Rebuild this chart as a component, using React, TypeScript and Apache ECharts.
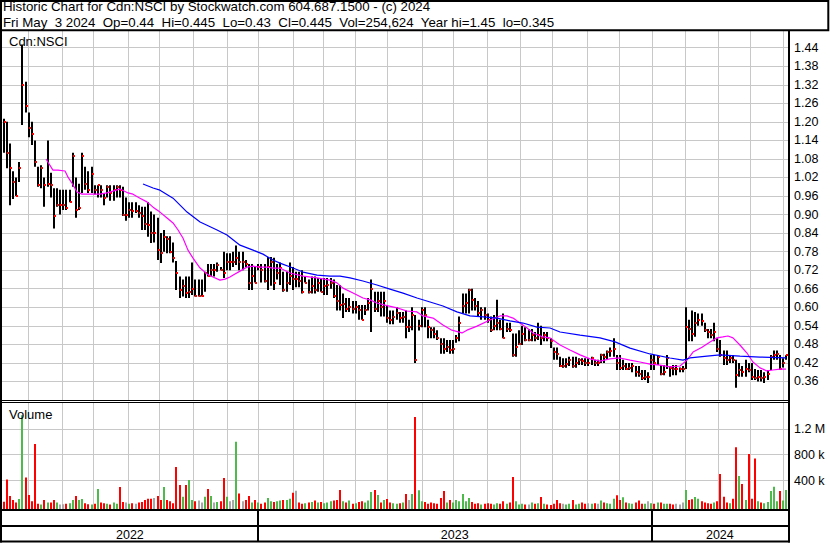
import React, { useEffect, useRef } from "react";
import * as echarts from "echarts";

// Each plotted bar covers two trading sessions; x unit = trading session index.
const STEP = 2;

const hi = [
  1.21, 1.20, 1.13, 1.04, 1.02, 1.07, 1.45, 1.33, 1.23, 1.20,
  1.14, 1.055, 1.06, 1.02, 1.14, 1.035, 0.985, 0.985, 0.98, 0.98,
  0.98, 0.98, 1.10, 1.02, 1.00, 1.10, 1.055, 1.04, 1.055, 0.995,
  0.995, 0.995, 0.97, 0.995, 0.995, 0.995, 0.995, 0.995, 0.99, 0.955,
  0.94, 0.94, 0.94, 0.93, 0.925, 0.925, 0.94, 0.91, 0.90, 0.89,
  0.84, 0.85, 0.83, 0.83, 0.81, 0.75, 0.70, 0.69, 0.70, 0.70,
  0.745, 0.69, 0.69, 0.69, 0.715, 0.74, 0.74, 0.74, 0.745, 0.73,
  0.78, 0.775, 0.775, 0.78, 0.80, 0.78, 0.78, 0.753, 0.74, 0.74,
  0.73, 0.74, 0.74, 0.74, 0.763, 0.763, 0.76, 0.74, 0.745, 0.715,
  0.715, 0.745, 0.73, 0.715, 0.715, 0.72, 0.70, 0.69, 0.70, 0.70,
  0.695, 0.695, 0.695, 0.695, 0.695, 0.69, 0.672, 0.672, 0.645, 0.63,
  0.63, 0.62, 0.62, 0.607, 0.607, 0.607, 0.63, 0.69, 0.65, 0.65,
  0.65, 0.65, 0.607, 0.59, 0.59, 0.60, 0.585, 0.585, 0.59, 0.56,
  0.60, 0.575, 0.56, 0.60, 0.60, 0.56, 0.535, 0.535, 0.526, 0.50,
  0.50, 0.494, 0.494, 0.494, 0.51, 0.57, 0.645, 0.645, 0.66, 0.66,
  0.63, 0.62, 0.60, 0.60, 0.58, 0.57, 0.575, 0.624, 0.56, 0.58,
  0.55, 0.55, 0.515, 0.515, 0.526, 0.54, 0.535, 0.53, 0.53, 0.52,
  0.55, 0.54, 0.52, 0.52, 0.50, 0.47, 0.47, 0.44, 0.435, 0.435,
  0.44, 0.44, 0.44, 0.435, 0.435, 0.435, 0.435, 0.44, 0.43, 0.43,
  0.45, 0.45, 0.46, 0.47, 0.50, 0.446, 0.446, 0.43, 0.42, 0.42,
  0.42, 0.41, 0.41, 0.397, 0.397, 0.39, 0.446, 0.446, 0.446, 0.413,
  0.413, 0.446, 0.41, 0.413, 0.413, 0.405, 0.41, 0.60, 0.56, 0.59,
  0.585, 0.58, 0.58, 0.55, 0.53, 0.53, 0.55, 0.50, 0.494, 0.46,
  0.46, 0.446, 0.446, 0.43, 0.42, 0.41, 0.43, 0.42, 0.42, 0.40,
  0.397, 0.397, 0.39, 0.397, 0.446, 0.46, 0.46, 0.446, 0.435, 0.445,
];

const lo = [
  1.10, 1.05, 0.93, 0.95, 0.96, 1.005, 1.19, 1.23, 1.15, 1.125,
  1.055, 0.99, 0.985, 0.925, 0.99, 0.955, 0.855, 0.925, 0.90, 0.915,
  0.915, 0.94, 0.99, 0.89, 0.915, 0.97, 0.98, 0.97, 0.97, 0.965,
  0.955, 0.955, 0.93, 0.955, 0.945, 0.945, 0.955, 0.955, 0.895, 0.88,
  0.89, 0.89, 0.905, 0.89, 0.85, 0.85, 0.828, 0.808, 0.81, 0.753,
  0.743, 0.78, 0.775, 0.775, 0.745, 0.656, 0.63, 0.635, 0.63, 0.63,
  0.64, 0.635, 0.635, 0.635, 0.65, 0.70, 0.70, 0.70, 0.715, 0.72,
  0.695, 0.72, 0.72, 0.73, 0.737, 0.72, 0.72, 0.73, 0.656, 0.656,
  0.68, 0.72, 0.68, 0.68, 0.656, 0.67, 0.656, 0.69, 0.672, 0.65,
  0.65, 0.672, 0.656, 0.665, 0.665, 0.645, 0.68, 0.645, 0.645, 0.645,
  0.65, 0.65, 0.64, 0.64, 0.66, 0.63, 0.59, 0.59, 0.565, 0.585,
  0.585, 0.58, 0.58, 0.56, 0.56, 0.575, 0.59, 0.52, 0.585, 0.585,
  0.57, 0.57, 0.55, 0.545, 0.545, 0.56, 0.55, 0.55, 0.50, 0.52,
  0.526, 0.42, 0.525, 0.535, 0.535, 0.50, 0.50, 0.50, 0.494, 0.45,
  0.45, 0.455, 0.45, 0.45, 0.485, 0.49, 0.58, 0.58, 0.58, 0.59,
  0.59, 0.57, 0.56, 0.56, 0.55, 0.52, 0.526, 0.526, 0.526, 0.50,
  0.52, 0.52, 0.44, 0.44, 0.478, 0.478, 0.49, 0.49, 0.49, 0.49,
  0.494, 0.478, 0.49, 0.49, 0.468, 0.43, 0.43, 0.407, 0.404, 0.404,
  0.41, 0.404, 0.404, 0.413, 0.413, 0.41, 0.41, 0.413, 0.41, 0.41,
  0.42, 0.42, 0.43, 0.44, 0.44, 0.397, 0.397, 0.397, 0.397, 0.397,
  0.39, 0.375, 0.375, 0.365, 0.365, 0.355, 0.397, 0.397, 0.413, 0.38,
  0.38, 0.40, 0.375, 0.38, 0.38, 0.39, 0.39, 0.40, 0.49, 0.49,
  0.505, 0.54, 0.54, 0.52, 0.50, 0.50, 0.49, 0.455, 0.44, 0.413,
  0.413, 0.42, 0.42, 0.34, 0.375, 0.375, 0.375, 0.39, 0.365, 0.365,
  0.36, 0.36, 0.355, 0.365, 0.397, 0.43, 0.43, 0.397, 0.405, 0.43,
];

const cl = [
  1.20, 1.10, 1.05, 1.005, 0.96, 1.05, 1.32, 1.25, 1.18, 1.16,
  1.07, 0.995, 1.05, 0.995, 1.00, 0.995, 0.895, 0.93, 0.93, 0.93,
  0.92, 0.94, 1.09, 0.915, 0.92, 1.09, 1.00, 0.98, 1.03, 0.98,
  0.995, 0.98, 0.955, 0.99, 0.97, 0.98, 0.99, 0.98, 0.90, 0.90,
  0.915, 0.91, 0.91, 0.905, 0.895, 0.87, 0.866, 0.84, 0.84, 0.785,
  0.775, 0.827, 0.82, 0.78, 0.76, 0.71, 0.656, 0.67, 0.645, 0.65,
  0.66, 0.636, 0.636, 0.636, 0.71, 0.70, 0.72, 0.72, 0.737, 0.72,
  0.71, 0.745, 0.745, 0.745, 0.76, 0.745, 0.745, 0.74, 0.68, 0.70,
  0.68, 0.73, 0.72, 0.685, 0.73, 0.745, 0.68, 0.71, 0.727, 0.656,
  0.68, 0.70, 0.69, 0.69, 0.685, 0.65, 0.68, 0.65, 0.67, 0.656,
  0.68, 0.65, 0.67, 0.672, 0.68, 0.635, 0.62, 0.607, 0.61, 0.595,
  0.60, 0.595, 0.60, 0.59, 0.56, 0.59, 0.615, 0.66, 0.595, 0.62,
  0.60, 0.62, 0.565, 0.56, 0.57, 0.58, 0.565, 0.57, 0.535, 0.535,
  0.575, 0.43, 0.54, 0.59, 0.575, 0.535, 0.526, 0.515, 0.50, 0.48,
  0.465, 0.47, 0.462, 0.465, 0.50, 0.55, 0.605, 0.615, 0.656, 0.624,
  0.605, 0.58, 0.59, 0.575, 0.56, 0.525, 0.54, 0.55, 0.53, 0.50,
  0.53, 0.526, 0.446, 0.47, 0.48, 0.515, 0.494, 0.494, 0.51, 0.50,
  0.51, 0.50, 0.51, 0.50, 0.49, 0.455, 0.45, 0.41, 0.41, 0.415,
  0.43, 0.41, 0.42, 0.43, 0.425, 0.42, 0.42, 0.435, 0.42, 0.42,
  0.446, 0.44, 0.455, 0.46, 0.465, 0.42, 0.405, 0.41, 0.40, 0.405,
  0.41, 0.39, 0.385, 0.37, 0.375, 0.375, 0.43, 0.42, 0.44, 0.385,
  0.39, 0.435, 0.405, 0.40, 0.40, 0.40, 0.40, 0.535, 0.53, 0.515,
  0.55, 0.56, 0.555, 0.526, 0.52, 0.51, 0.52, 0.465, 0.446, 0.435,
  0.43, 0.435, 0.43, 0.38, 0.397, 0.39, 0.40, 0.397, 0.375, 0.37,
  0.375, 0.37, 0.375, 0.385, 0.44, 0.446, 0.45, 0.40, 0.42, 0.445,
];

// volume in thousands of shares
const volK = [
  73, 418, 160, 100, 60, 114, 1410, 449, 176, 80,
  964, 40, 30, 99, 60, 60, 99, 60, 30, 35,
  40, 50, 100, 160, 100, 114, 50, 35, 30, 40,
  269, 60, 50, 40, 30, 60, 40, 300, 70, 60,
  40, 50, 40, 60, 70, 100, 120, 120, 130, 160,
  100, 300, 100, 80, 50, 608, 330, 150, 330, 408,
  100, 80, 90, 60, 150, 269, 160, 60, 70, 80,
  438, 150, 80, 100, 1000, 200, 80, 100, 160, 60,
  100, 60, 40, 60, 130, 80, 70, 80, 90, 100,
  100, 120, 212, 243, 60, 40, 50, 60, 70, 90,
  60, 70, 50, 60, 80, 90, 99, 253, 80, 60,
  90, 40, 50, 70, 80, 60, 90, 222, 253, 176,
  60, 100, 114, 60, 50, 40, 50, 60, 191, 100,
  191, 1385, 250, 80, 70, 40, 60, 50, 40, 130,
  238, 60, 100, 60, 99, 80, 191, 80, 130, 70,
  40, 50, 30, 40, 50, 40, 30, 50, 40, 80,
  40, 60, 454, 80, 30, 40, 30, 30, 60, 40,
  50, 145, 40, 30, 20, 40, 99, 50, 40, 30,
  40, 99, 30, 40, 60, 40, 50, 40, 50, 40,
  90, 60, 50, 40, 120, 171, 99, 140, 60, 50,
  40, 60, 90, 40, 40, 80, 50, 40, 60, 60,
  40, 40, 40, 30, 40, 30, 60, 253, 100, 110,
  145, 120, 80, 60, 50, 40, 60, 80, 500, 150,
  60, 50, 120, 917, 470, 346, 100, 809, 120, 742,
  80, 60, 50, 70, 238, 304, 80, 238, 90, 254.624,
];

// session index where each month begins (Jun 2022 .. May 2024)
const monthStarts = [
  15.7, 37.4, 57.1, 79.3, 99.1, 120.7, 141.9, 161.7, 183.9, 203.0, 223.6, 244.1,
  266.4, 286.1, 307.3, 328.5, 348.7, 370.9, 391.5, 412.3, 433.5, 454.7, 474.8, 495.8,
];

const yearNames = ["2022", "2023", "2024"];
const yearStarts = [-1, 161.7, 412.3];
const yearEnds = [161.7, 412.3, 499];

// short moving average (magenta)
const maFastDay = [
  27.0, 31.4, 34.6, 39.1, 41.0, 43.5, 46.7, 49.9, 55.0, 61.3,
  65.8, 69.6, 74.1, 79.2, 82.3, 86.8, 91.2, 95.1, 99.5, 104.0,
  107.8, 111.0, 114.1, 117.3, 120.5, 125.0, 129.4, 133.2, 137.7, 140.9,
  144.0, 147.2, 150.4, 154.8, 158.7, 163.1, 167.6, 171.4, 175.8, 182.2,
  190.5, 199.4, 207.6, 212.1, 215.9, 222.3, 228.6, 233.1, 237.5, 242.6,
  250.3, 256.6, 263.0, 266.8, 273.2, 279.5, 285.2, 291.6, 294.8, 301.2,
  309.4, 315.8, 320.2, 324.1, 328.5, 333.0, 336.8, 343.1, 347.6, 354.0,
  360.3, 366.7, 373.0, 379.4, 385.7, 392.1, 398.5, 404.8, 411.2, 417.5,
  423.9, 430.3, 434.7, 438.6, 444.3, 449.4, 453.8, 457.6, 460.8, 464.0,
  468.4, 472.9, 476.7, 481.2, 485.6, 489.4, 493.9, 497.7,
];
const maFastVal = [
  1.080, 1.044, 1.044, 1.041, 1.021, 1.002, 0.973, 0.966, 0.966, 0.966,
  0.970, 0.976, 0.983, 0.970, 0.966, 0.953, 0.941, 0.924, 0.908, 0.889,
  0.873, 0.850, 0.824, 0.785, 0.759, 0.727, 0.708, 0.698, 0.688, 0.691,
  0.698, 0.708, 0.717, 0.730, 0.733, 0.730, 0.730, 0.727, 0.727, 0.711,
  0.701, 0.695, 0.688, 0.679, 0.662, 0.646, 0.630, 0.624, 0.614, 0.607,
  0.598, 0.588, 0.585, 0.572, 0.565, 0.543, 0.526, 0.517, 0.526, 0.539,
  0.559, 0.572, 0.572, 0.565, 0.549, 0.533, 0.517, 0.504, 0.501, 0.478,
  0.462, 0.446, 0.433, 0.426, 0.433, 0.436, 0.429, 0.423, 0.416, 0.413,
  0.407, 0.410, 0.429, 0.455, 0.471, 0.488, 0.501, 0.504, 0.507, 0.501,
  0.478, 0.452, 0.423, 0.404, 0.394, 0.397, 0.400, 0.400,
];

// long moving average (blue)
const maSlowDay = [
  88.7, 95.1, 99.5, 107.8, 116.7, 125.0, 135.8, 142.1, 150.4, 158.7,
  165.0, 171.4, 175.8, 184.1, 190.5, 199.4, 207.6, 214.0, 220.4, 228.6,
  237.5, 245.8, 254.1, 263.0, 271.3, 279.5, 288.4, 296.7, 305.0, 313.9,
  322.1, 330.4, 339.3, 347.6, 354.0, 366.7, 379.4, 389.0, 398.5, 411.2,
  423.9, 432.2, 436.6, 447.5, 455.7, 468.4, 481.2, 497.7,
];
const maSlowVal = [
  0.999, 0.986, 0.979, 0.953, 0.908, 0.876, 0.850, 0.834, 0.801, 0.785,
  0.772, 0.753, 0.743, 0.727, 0.714, 0.704, 0.701, 0.701, 0.695, 0.685,
  0.672, 0.659, 0.646, 0.630, 0.617, 0.604, 0.585, 0.572, 0.569, 0.565,
  0.556, 0.549, 0.536, 0.533, 0.520, 0.510, 0.501, 0.488, 0.468, 0.449,
  0.436, 0.429, 0.436, 0.442, 0.446, 0.442, 0.439, 0.436,
];

const titleLine1 = "Historic Chart for Cdn:NSCI by Stockwatch.com 604.687.1500 - (c) 2024";
const titleLine2 =
  "Fri May  3 2024  Op=0.44  Hi=0.445  Lo=0.43  Cl=0.445  Vol=254,624  Year hi=1.45  lo=0.345";

const FONT = '"Liberation Sans", Arial, Helvetica, sans-serif';
const GRID_COLOR = "#c8c8c8";

export default function App() {
  const ref = useRef<HTMLDivElement>(null);

  useEffect(() => {
    const chart = echarts.init(ref.current!, null, { renderer: "svg" });

    const bars = hi.map((h, k) => [k * STEP, lo[k], h, cl[k]]);
    const vols = volK.map((v, k) => [
      k * STEP,
      v,
      k === 0 ? -1 : Math.sign(Math.round((cl[k] - cl[k - 1]) * 10000)),
    ]);

    const monthLines = (gridIdx: number, extra: number) => ({
      type: "custom",
      xAxisIndex: gridIdx,
      yAxisIndex: gridIdx,
      silent: true,
      z: 1,
      clip: false,
      data: monthStarts.map((d) => [d, 0]),
      encode: { x: 0, y: 1 },
      renderItem: (params: any, api: any) => {
        const cs = params.coordSys;
        const x = Math.round(api.coord([api.value(0), 0])[0]) + 0.5;
        return {
          type: "line",
          shape: { x1: x, y1: cs.y, x2: x, y2: cs.y + cs.height + extra },
          style: { stroke: GRID_COLOR, lineWidth: 1 },
        };
      },
    });

    const option: any = {
      animation: false,
      backgroundColor: "#ffffff",
      grid: [
        { left: 2, top: 31, width: 786, height: 369 },
        { left: 2, top: 403, width: 786, height: 103.4 },
        { left: 2, top: 511, width: 786, height: 31 },
      ],
      xAxis: [0, 1, 2].map((i) => ({
        type: "value",
        gridIndex: i,
        min: -1,
        max: 499,
        show: false,
      })),
      yAxis: [
        {
          type: "value",
          gridIndex: 0,
          position: "right",
          min: 0.3,
          max: 1.494,
          interval: 0.06,
          axisLine: { show: false },
          axisTick: { show: false },
          axisLabel: {
            margin: 6,
            color: "#000",
            fontSize: 12.5,
            fontFamily: FONT,
            showMinLabel: false,
            showMaxLabel: false,
            formatter: (v: number) => v.toFixed(2),
          },
          splitLine: {
            show: true,
            showMinLine: false,
            showMaxLine: false,
            lineStyle: { color: GRID_COLOR, width: 1 },
          },
        },
        {
          type: "value",
          gridIndex: 1,
          position: "right",
          min: 0,
          max: 1600,
          interval: 400,
          axisLine: { show: false },
          axisTick: { show: false },
          axisLabel: {
            margin: 6,
            color: "#000",
            fontSize: 12.5,
            fontFamily: FONT,
            showMinLabel: false,
            showMaxLabel: false,
            formatter: (v: number) => (v >= 1000 ? `${v / 1000} M` : `${v} k`),
          },
          splitLine: {
            show: true,
            showMinLine: false,
            showMaxLine: false,
            lineStyle: { color: GRID_COLOR, width: 1 },
          },
        },
        { type: "value", gridIndex: 2, min: 0, max: 1, show: false },
      ],
      series: [
        monthLines(0, 0),
        monthLines(1, 2.6),
        {
          type: "custom",
          name: "Price",
          xAxisIndex: 0,
          yAxisIndex: 0,
          silent: true,
          z: 2,
          data: bars,
          encode: { x: 0, y: [1, 2, 3] },
          renderItem: (params: any, api: any) => {
            const d = api.value(0);
            const pl = api.coord([d, api.value(1)]);
            const ph = api.coord([d, api.value(2)]);
            const pc = api.coord([d, api.value(3)]);
            const x = Math.round(pl[0]);
            return {
              type: "group",
              children: [
                {
                  type: "rect",
                  shape: { x: x - 1, y: ph[1], width: 2, height: Math.max(1.5, pl[1] - ph[1]) },
                  style: { fill: "#000000" },
                },
                {
                  type: "rect",
                  shape: { x: x, y: Math.round(pc[1]) - 1, width: 2, height: 2 },
                  style: { fill: "#ff0000" },
                },
              ],
            };
          },
        },
        {
          type: "line",
          name: "MA short",
          xAxisIndex: 0,
          yAxisIndex: 0,
          z: 3,
          silent: true,
          symbol: "none",
          showSymbol: false,
          data: maFastDay.map((d, i) => [d, maFastVal[i]]),
          lineStyle: { color: "#ff00ff", width: 1.2 },
        },
        {
          type: "line",
          name: "MA long",
          xAxisIndex: 0,
          yAxisIndex: 0,
          z: 3,
          silent: true,
          symbol: "none",
          showSymbol: false,
          data: maSlowDay.map((d, i) => [d, maSlowVal[i]]),
          lineStyle: { color: "#0000ff", width: 1.2 },
        },
        {
          type: "custom",
          name: "Volume",
          xAxisIndex: 1,
          yAxisIndex: 1,
          silent: true,
          z: 2,
          clip: false,
          data: vols,
          encode: { x: 0, y: 1 },
          renderItem: (params: any, api: any) => {
            const cs = params.coordSys;
            const top = api.coord([api.value(0), api.value(1)]);
            const dir = api.value(2);
            const bottom = cs.y + cs.height + 2.6;
            const x = Math.round(top[0]);
            return {
              type: "rect",
              shape: { x: x - 1, y: top[1], width: 2, height: bottom - top[1] },
              style: { fill: dir > 0 ? "#4cbb4c" : dir < 0 ? "#ff0000" : "#a8a8a8" },
            };
          },
        },
        {
          type: "custom",
          name: "Years",
          xAxisIndex: 2,
          yAxisIndex: 2,
          silent: true,
          clip: false,
          data: yearNames.map((n, i) => [yearStarts[i], yearEnds[i], i]),
          encode: { x: [0, 1] },
          renderItem: (params: any, api: any) => {
            const cs = params.coordSys;
            const i = api.value(2);
            const s = api.coord([api.value(0), 0]);
            const e = api.coord([api.value(1), 0]);
            const children: any[] = [
              {
                type: "text",
                x: (Math.max(s[0], cs.x) + Math.min(e[0], cs.x + cs.width)) / 2,
                y: cs.y + 24,
                style: {
                  text: yearNames[i],
                  fill: "#000",
                  font: `12.5px ${FONT}`,
                  align: "center",
                  verticalAlign: "middle",
                },
              },
            ];
            if (i > 0) {
              const x = Math.round(s[0]);
              children.push({
                type: "line",
                shape: { x1: x, y1: cs.y, x2: x, y2: cs.y + cs.height },
                style: { stroke: "#000", lineWidth: 2 },
              });
            }
            return { type: "group", children };
          },
        },
      ],
      graphic: [
        {
          type: "rect",
          z: 100,
          shape: { x: 1, y: 1, width: 827.3, height: 29.3 },
          style: { fill: "none", stroke: "#000", lineWidth: 2 },
        },
        {
          type: "text",
          z: 100,
          x: 3,
          y: 6,
          style: { text: titleLine1, fill: "#000", font: `13.3px ${FONT}`, verticalAlign: "middle" },
        },
        {
          type: "text",
          z: 100,
          x: 3,
          y: 22,
          style: { text: titleLine2, fill: "#000", font: `13.3px ${FONT}`, verticalAlign: "middle" },
        },
        {
          type: "text",
          z: 100,
          x: 9,
          y: 41.5,
          style: { text: "Cdn:NSCI", fill: "#000", font: `13px ${FONT}`, verticalAlign: "middle" },
        },
        {
          type: "text",
          z: 100,
          x: 9,
          y: 414,
          style: { text: "Volume", fill: "#000", font: `13px ${FONT}`, verticalAlign: "middle" },
        },
        { type: "line", z: 100, shape: { x1: 1, y1: 30, x2: 1, y2: 542.5 }, style: { stroke: "#000", lineWidth: 2 } },
        { type: "line", z: 100, shape: { x1: 789, y1: 30, x2: 789, y2: 542.5 }, style: { stroke: "#000", lineWidth: 2 } },
        { type: "line", z: 100, shape: { x1: 0, y1: 400.5, x2: 789, y2: 400.5 }, style: { stroke: "#000", lineWidth: 1 } },
        { type: "line", z: 100, shape: { x1: 0, y1: 402.5, x2: 789, y2: 402.5 }, style: { stroke: "#000", lineWidth: 1 } },
        { type: "line", z: 100, shape: { x1: 0, y1: 510, x2: 790, y2: 510 }, style: { stroke: "#000", lineWidth: 2 } },
        { type: "line", z: 100, shape: { x1: 0, y1: 526, x2: 790, y2: 526 }, style: { stroke: "#000", lineWidth: 2 } },
        { type: "line", z: 100, shape: { x1: 0, y1: 541.5, x2: 790, y2: 541.5 }, style: { stroke: "#000", lineWidth: 2 } },
      ],
    };

    chart.setOption(option);
    return () => chart.dispose();
  }, []);

  return (
    <div
      ref={ref}
      style={{ position: "absolute", left: 0, top: 0, width: 830, height: 543 }}
    />
  );
}
